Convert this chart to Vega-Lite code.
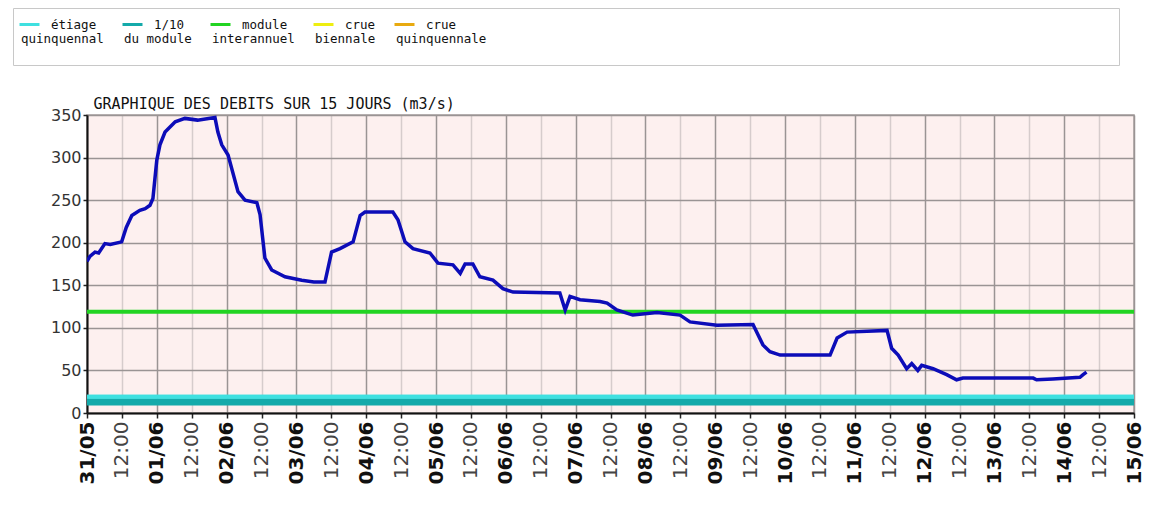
{
  "$schema": "https://vega.github.io/schema/vega-lite/v6.json",
  "width": 1047,
  "height": 298,
  "autosize": {"type": "none"},
  "padding": {"left": 87, "top": 115, "right": 21, "bottom": 97},
  "background": "#ffffff",
  "config": {
    "view": {"fill": "#fdf0ef", "stroke": "#a8a0a0", "strokeWidth": 1.5}
  },
  "datasets": {
    "debits": [
      {"t": "2024-05-31T00:00", "q": 178},
      {"t": "2024-05-31T01:00", "q": 184},
      {"t": "2024-05-31T02:45", "q": 189},
      {"t": "2024-05-31T04:00", "q": 188},
      {"t": "2024-05-31T06:10", "q": 199},
      {"t": "2024-05-31T08:00", "q": 198},
      {"t": "2024-05-31T11:55", "q": 201},
      {"t": "2024-05-31T13:30", "q": 218},
      {"t": "2024-05-31T15:25", "q": 232},
      {"t": "2024-05-31T18:10", "q": 238},
      {"t": "2024-05-31T20:00", "q": 240},
      {"t": "2024-05-31T21:40", "q": 244},
      {"t": "2024-05-31T22:40", "q": 252},
      {"t": "2024-06-01T00:00", "q": 297},
      {"t": "2024-06-01T01:05", "q": 315},
      {"t": "2024-06-01T02:50", "q": 330},
      {"t": "2024-06-01T06:20", "q": 342},
      {"t": "2024-06-01T09:40", "q": 346},
      {"t": "2024-06-01T14:00", "q": 344},
      {"t": "2024-06-01T20:00", "q": 347},
      {"t": "2024-06-01T21:00", "q": 330},
      {"t": "2024-06-01T22:20", "q": 315},
      {"t": "2024-06-02T00:30", "q": 303},
      {"t": "2024-06-02T03:55", "q": 260},
      {"t": "2024-06-02T06:20", "q": 250},
      {"t": "2024-06-02T10:25", "q": 247},
      {"t": "2024-06-02T11:30", "q": 233},
      {"t": "2024-06-02T13:10", "q": 182},
      {"t": "2024-06-02T15:30", "q": 168},
      {"t": "2024-06-02T20:05", "q": 160},
      {"t": "2024-06-03T01:50", "q": 156},
      {"t": "2024-06-03T06:00", "q": 154},
      {"t": "2024-06-03T09:50", "q": 154},
      {"t": "2024-06-03T12:05", "q": 189},
      {"t": "2024-06-03T15:00", "q": 193},
      {"t": "2024-06-03T19:30", "q": 201},
      {"t": "2024-06-03T21:55", "q": 232},
      {"t": "2024-06-03T23:35", "q": 236},
      {"t": "2024-06-04T09:10", "q": 236},
      {"t": "2024-06-04T10:55", "q": 227},
      {"t": "2024-06-04T13:20", "q": 201},
      {"t": "2024-06-04T16:05", "q": 193},
      {"t": "2024-06-04T21:55", "q": 188},
      {"t": "2024-06-05T00:40", "q": 176},
      {"t": "2024-06-05T05:50", "q": 174},
      {"t": "2024-06-05T08:20", "q": 164},
      {"t": "2024-06-05T10:00", "q": 175},
      {"t": "2024-06-05T12:40", "q": 175},
      {"t": "2024-06-05T15:05", "q": 160},
      {"t": "2024-06-05T19:35", "q": 156},
      {"t": "2024-06-05T23:00", "q": 146},
      {"t": "2024-06-06T02:30", "q": 142},
      {"t": "2024-06-06T18:35", "q": 141},
      {"t": "2024-06-06T20:25", "q": 121},
      {"t": "2024-06-06T22:05", "q": 137},
      {"t": "2024-06-07T01:30", "q": 133},
      {"t": "2024-06-07T08:25", "q": 131},
      {"t": "2024-06-07T10:50", "q": 129},
      {"t": "2024-06-07T14:10", "q": 121},
      {"t": "2024-06-07T19:40", "q": 115},
      {"t": "2024-06-08T04:00", "q": 118},
      {"t": "2024-06-08T11:55", "q": 115},
      {"t": "2024-06-08T15:20", "q": 107},
      {"t": "2024-06-09T00:35", "q": 103},
      {"t": "2024-06-09T13:00", "q": 104},
      {"t": "2024-06-09T16:25", "q": 80},
      {"t": "2024-06-09T18:50", "q": 72},
      {"t": "2024-06-09T22:20", "q": 68},
      {"t": "2024-06-10T15:30", "q": 68},
      {"t": "2024-06-10T17:55", "q": 88},
      {"t": "2024-06-10T21:20", "q": 95},
      {"t": "2024-06-11T11:05", "q": 97},
      {"t": "2024-06-11T12:40", "q": 76},
      {"t": "2024-06-11T14:55", "q": 68},
      {"t": "2024-06-11T17:50", "q": 52},
      {"t": "2024-06-11T19:35", "q": 58},
      {"t": "2024-06-11T21:40", "q": 50},
      {"t": "2024-06-11T23:00", "q": 56},
      {"t": "2024-06-12T02:55", "q": 52},
      {"t": "2024-06-12T07:35", "q": 45},
      {"t": "2024-06-12T11:00", "q": 39},
      {"t": "2024-06-12T13:10", "q": 41},
      {"t": "2024-06-13T13:20", "q": 41},
      {"t": "2024-06-13T14:30", "q": 39},
      {"t": "2024-06-13T20:05", "q": 40},
      {"t": "2024-06-14T05:25", "q": 42},
      {"t": "2024-06-14T06:30", "q": 45},
      {"t": "2024-06-14T07:40", "q": 48}
    ],
    "seuils": [
      {"serie": "étiage|quinquennal", "q": 19},
      {"serie": "1/10|du module", "q": 13},
      {"serie": "module|interannuel", "q": 119}
    ]
  },
  "layer": [
    {
      "data": {"name": "seuils"},
      "mark": {"type": "rule", "clip": true, "strokeWidth": 4},
      "encoding": {
        "y": {
          "field": "q",
          "type": "quantitative",
          "scale": {"domain": [0, 350], "nice": false, "zero": true},
          "axis": {
            "values": [0, 25, 50, 75, 100, 125, 150, 175, 200, 225, 250, 275, 300, 325, 350],
            "labelExpr": "datum.value % 50 == 0 ? datum.label : ''",
            "labelFont": "DejaVu Sans",
            "labelFontSize": 16,
            "labelColor": "#333333",
            "labelPadding": 2,
            "tickSize": 4,
            "tickColor": "#222222",
            "tickWidth": 1.5,
            "domainColor": "#111111",
            "domainWidth": 2,
            "gridColor": {"condition": {"test": "datum.value % 50 == 0", "value": "#9a9494"}, "value": "#d6cccc"},
            "gridWidth": 1.5,
            "gridOpacity": 1,
            "title": "GRAPHIQUE DES DEBITS SUR 15 JOURS (m3/s)",
            "titleAngle": 0,
            "titleX": 6,
            "titleY": -4,
            "titleAlign": "left",
            "titleBaseline": "bottom",
            "titleFont": "DejaVu Sans Mono",
            "titleFontSize": 15,
            "titleFontWeight": "normal",
            "titleColor": "#111111",
            "labelOverlap": false,
            "labelFlush": false
          }
        },
        "color": {
          "field": "serie",
          "type": "nominal",
          "scale": {
            "domain": ["étiage|quinquennal", "1/10|du module", "module|interannuel", "crue|biennale", "crue|quinquennale"],
            "range": ["#3fe0e0", "#14aaaa", "#22d422", "#eeee10", "#e8aa10"]
          },
          "legend": {
            "orient": "none",
            "legendX": -74,
            "legendY": -107,
            "direction": "horizontal",
            "title": null,
            "symbolType": "stroke",
            "symbolSize": 400,
            "symbolStrokeWidth": 3,
            "labelOffset": -20,
            "labelFont": "DejaVu Sans Mono",
            "labelFontSize": 12.5,
            "labelColor": "#111111",
            "labelBaseline": "middle",
            "labelLimit": 2000,
            "columnPadding": 12,
            "padding": 5,
            "strokeColor": "#c8c8c8",
            "fillColor": "#ffffff",
            "labelExpr": "['\u2800\u2800\u2800' + split(datum.label, '|')[0], split(datum.label, '|')[1] + (datum.label == 'crue|quinquennale' ? '                                                                                  \u2800' : ''), '']"
          }
        }
      }
    },
    {
      "data": {"name": "seuils"},
      "transform": [{"filter": "datum.serie == '1/10|du module'"}],
      "mark": {"type": "rule", "clip": true, "strokeWidth": 7, "color": "#14aaaa"},
      "encoding": {"y": {"field": "q", "type": "quantitative"}}
    },
    {
      "data": {"name": "seuils"},
      "transform": [{"filter": "datum.serie == 'étiage|quinquennal'"}],
      "mark": {"type": "rule", "clip": true, "strokeWidth": 4, "color": "#3fe0e0"},
      "encoding": {"y": {"field": "q", "type": "quantitative"}}
    },
    {
      "data": {"name": "debits"},
      "mark": {"type": "line", "color": "#0c0cb8", "strokeWidth": 3.5, "clip": true},
      "encoding": {
        "x": {
          "field": "t",
          "type": "temporal",
          "scale": {
            "domain": [
              {"year": 2024, "month": 5, "date": 31, "hours": 0},
              {"year": 2024, "month": 6, "date": 15, "hours": 0}
            ],
            "nice": false
          },
          "axis": {
            "values": [
              {"year": 2024, "month": 5, "date": 31, "hours": 0},
              {"year": 2024, "month": 5, "date": 31, "hours": 12},
              {"year": 2024, "month": 6, "date": 1, "hours": 0},
              {"year": 2024, "month": 6, "date": 1, "hours": 12},
              {"year": 2024, "month": 6, "date": 2, "hours": 0},
              {"year": 2024, "month": 6, "date": 2, "hours": 12},
              {"year": 2024, "month": 6, "date": 3, "hours": 0},
              {"year": 2024, "month": 6, "date": 3, "hours": 12},
              {"year": 2024, "month": 6, "date": 4, "hours": 0},
              {"year": 2024, "month": 6, "date": 4, "hours": 12},
              {"year": 2024, "month": 6, "date": 5, "hours": 0},
              {"year": 2024, "month": 6, "date": 5, "hours": 12},
              {"year": 2024, "month": 6, "date": 6, "hours": 0},
              {"year": 2024, "month": 6, "date": 6, "hours": 12},
              {"year": 2024, "month": 6, "date": 7, "hours": 0},
              {"year": 2024, "month": 6, "date": 7, "hours": 12},
              {"year": 2024, "month": 6, "date": 8, "hours": 0},
              {"year": 2024, "month": 6, "date": 8, "hours": 12},
              {"year": 2024, "month": 6, "date": 9, "hours": 0},
              {"year": 2024, "month": 6, "date": 9, "hours": 12},
              {"year": 2024, "month": 6, "date": 10, "hours": 0},
              {"year": 2024, "month": 6, "date": 10, "hours": 12},
              {"year": 2024, "month": 6, "date": 11, "hours": 0},
              {"year": 2024, "month": 6, "date": 11, "hours": 12},
              {"year": 2024, "month": 6, "date": 12, "hours": 0},
              {"year": 2024, "month": 6, "date": 12, "hours": 12},
              {"year": 2024, "month": 6, "date": 13, "hours": 0},
              {"year": 2024, "month": 6, "date": 13, "hours": 12},
              {"year": 2024, "month": 6, "date": 14, "hours": 0},
              {"year": 2024, "month": 6, "date": 14, "hours": 12},
              {"year": 2024, "month": 6, "date": 15, "hours": 0}
            ],
            "labelExpr": "hours(datum.value) == 0 ? timeFormat(datum.value, '%d/%m') : '12:00'",
            "labelAngle": -90,
            "labelFont": "DejaVu Sans",
            "labelFontSize": 20,
            "labelFontWeight": {"condition": {"test": "hours(datum.value) == 0", "value": "bold"}, "value": "normal"},
            "labelColor": {"condition": {"test": "hours(datum.value) == 0", "value": "#111111"}, "value": "#444444"},
            "labelPadding": 3,
            "labelOverlap": false,
            "labelFlush": false,
            "tickSize": 5,
            "tickColor": "#222222",
            "tickWidth": 1.5,
            "domainColor": "#111111",
            "domainWidth": 2,
            "gridColor": {"condition": {"test": "hours(datum.value) == 0", "value": "#9a9494"}, "value": "#d6cccc"},
            "gridWidth": 1.5,
            "gridOpacity": 1,
            "title": null
          }
        },
        "y": {"field": "q", "type": "quantitative"}
      }
    }
  ]
}
